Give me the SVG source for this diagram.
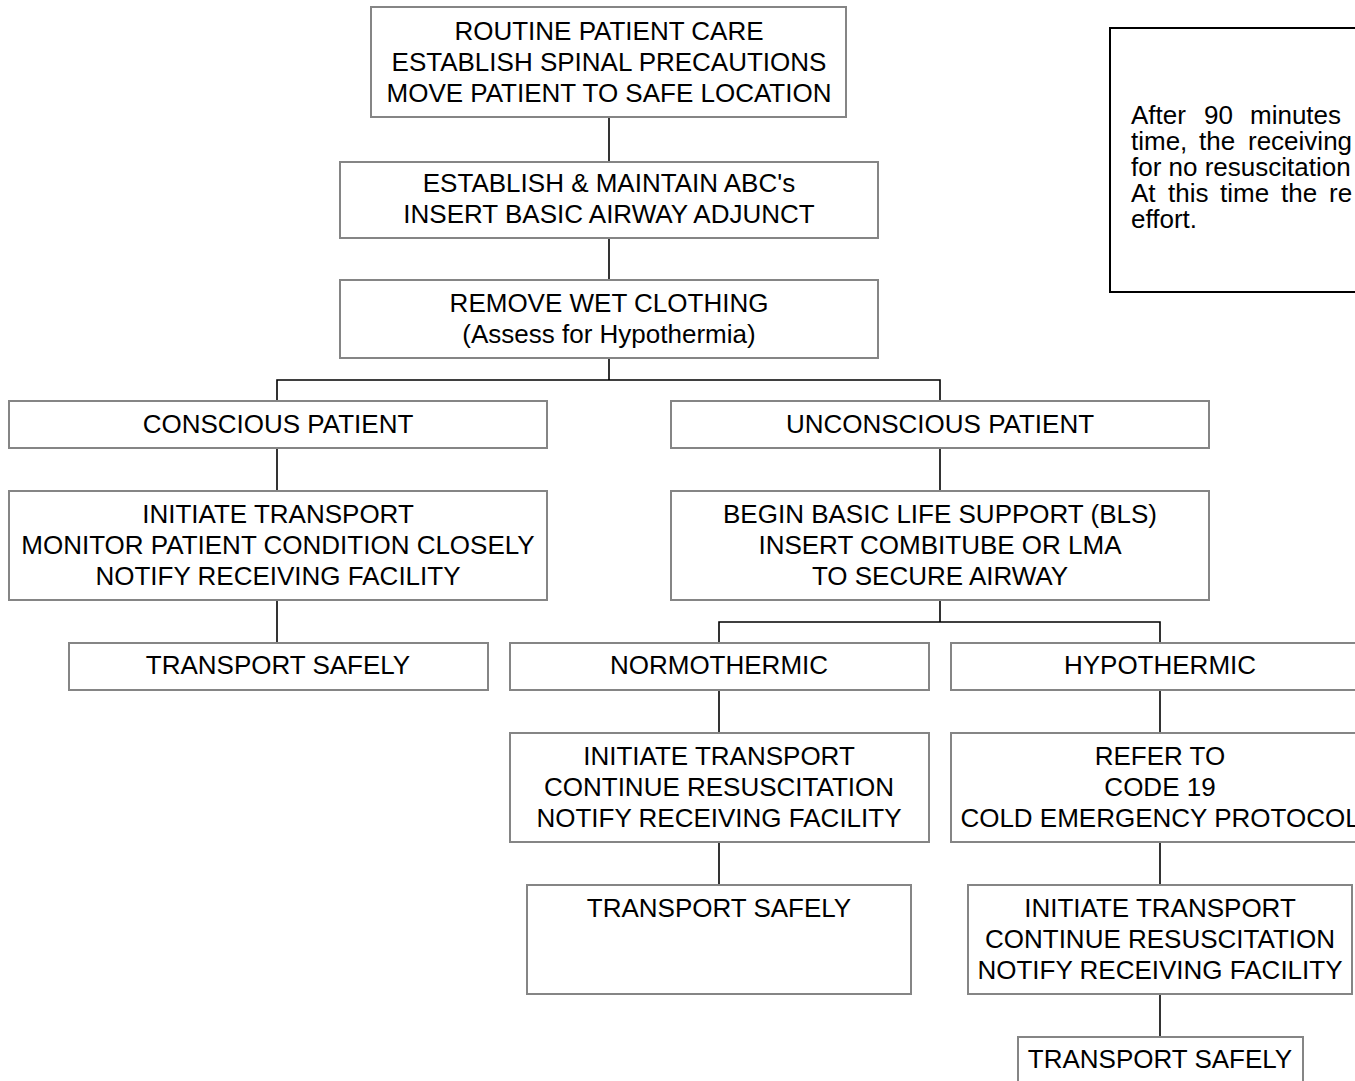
<svg xmlns="http://www.w3.org/2000/svg" width="1355" height="1081" viewBox="0 0 1355 1081">
  <style>
    .box { fill: #ffffff; stroke: #858585; stroke-width: 2; }
    .note { fill: #ffffff; stroke: #000000; stroke-width: 2; }
    .lbl { font-family: "Liberation Sans", Arial, sans-serif; font-size: 26px; fill: #000000; text-anchor: middle; }
    .ntx { font-family: "Liberation Sans", Arial, sans-serif; font-size: 26px; fill: #000000; }
    .wire { fill: none; stroke: #000000; stroke-width: 1.6; }
  </style>
  <rect width="1355" height="1081" fill="#ffffff"/>

  <!-- connectors -->
  <g id="connectors">
    <path class="wire" d="M609 117 V162"/>
    <path class="wire" d="M609 238 V280"/>
    <path class="wire" d="M609 358 V380 M277 401 V380 H940 V401"/>
    <path class="wire" d="M277 448 V491"/>
    <path class="wire" d="M277 600 V643"/>
    <path class="wire" d="M940 448 V491"/>
    <path class="wire" d="M940 600 V622 M719 643 V622 H1160 V643"/>
    <path class="wire" d="M719 690 V733"/>
    <path class="wire" d="M1160 690 V733"/>
    <path class="wire" d="M719 842 V885"/>
    <path class="wire" d="M1160 842 V885"/>
    <path class="wire" d="M1160 994 V1037"/>
  </g>

  <g id="routine-care">
    <rect class="box" x="371" y="7" width="475" height="110"/>
    <text class="lbl" x="609" y="40.4">ROUTINE PATIENT CARE</text>
    <text class="lbl" x="609" y="71.4">ESTABLISH SPINAL PRECAUTIONS</text>
    <text class="lbl" x="609" y="102.4">MOVE PATIENT TO SAFE LOCATION</text>
  </g>

  <g id="abcs">
    <rect class="box" x="340" y="162" width="538" height="76"/>
    <text class="lbl" x="609" y="192.4">ESTABLISH &amp; MAINTAIN ABC's</text>
    <text class="lbl" x="609" y="223.4">INSERT BASIC AIRWAY ADJUNCT</text>
  </g>

  <g id="wet-clothing">
    <rect class="box" x="340" y="280" width="538" height="78"/>
    <text class="lbl" x="609" y="312.4">REMOVE WET CLOTHING</text>
    <text class="lbl" x="609" y="343.4">(Assess for Hypothermia)</text>
  </g>

  <g id="conscious">
    <rect class="box" x="9" y="401" width="538" height="47"/>
    <text class="lbl" x="278" y="433.4">CONSCIOUS PATIENT</text>
  </g>

  <g id="unconscious">
    <rect class="box" x="671" y="401" width="538" height="47"/>
    <text class="lbl" x="940" y="433.4">UNCONSCIOUS PATIENT</text>
  </g>

  <g id="conscious-transport">
    <rect class="box" x="9" y="491" width="538" height="109"/>
    <text class="lbl" x="278" y="523.4">INITIATE TRANSPORT</text>
    <text class="lbl" x="278" y="554.4">MONITOR PATIENT CONDITION CLOSELY</text>
    <text class="lbl" x="278" y="585.4">NOTIFY RECEIVING FACILITY</text>
  </g>

  <g id="bls">
    <rect class="box" x="671" y="491" width="538" height="109"/>
    <text class="lbl" x="940" y="523.4">BEGIN BASIC LIFE SUPPORT (BLS)</text>
    <text class="lbl" x="940" y="554.4">INSERT COMBITUBE OR LMA</text>
    <text class="lbl" x="940" y="585.4">TO SECURE AIRWAY</text>
  </g>

  <g id="conscious-safe">
    <rect class="box" x="69" y="643" width="419" height="47"/>
    <text class="lbl" x="278" y="674.4">TRANSPORT SAFELY</text>
  </g>

  <g id="normothermic">
    <rect class="box" x="510" y="643" width="419" height="47"/>
    <text class="lbl" x="719" y="674.4">NORMOTHERMIC</text>
  </g>

  <g id="hypothermic">
    <rect class="box" x="951" y="643" width="418" height="47"/>
    <text class="lbl" x="1160" y="674.4">HYPOTHERMIC</text>
  </g>

  <g id="normo-transport">
    <rect class="box" x="510" y="733" width="419" height="109"/>
    <text class="lbl" x="719" y="765.4">INITIATE TRANSPORT</text>
    <text class="lbl" x="719" y="796.4">CONTINUE RESUSCITATION</text>
    <text class="lbl" x="719" y="827.4">NOTIFY RECEIVING FACILITY</text>
  </g>

  <g id="cold-protocol">
    <rect class="box" x="951" y="733" width="418" height="109"/>
    <text class="lbl" x="1160" y="765.4">REFER TO</text>
    <text class="lbl" x="1160" y="796.4">CODE 19</text>
    <text class="lbl" x="1160" y="827.4">COLD EMERGENCY PROTOCOL</text>
  </g>

  <g id="normo-safe">
    <rect class="box" x="527" y="885" width="384" height="109"/>
    <text class="lbl" x="719" y="917.4">TRANSPORT SAFELY</text>
  </g>

  <g id="hypo-transport">
    <rect class="box" x="968" y="885" width="384" height="109"/>
    <text class="lbl" x="1160" y="917.4">INITIATE TRANSPORT</text>
    <text class="lbl" x="1160" y="948.4">CONTINUE RESUSCITATION</text>
    <text class="lbl" x="1160" y="979.4">NOTIFY RECEIVING FACILITY</text>
  </g>

  <g id="hypo-safe">
    <rect class="box" x="1018" y="1037" width="285" height="60"/>
    <text class="lbl" x="1160" y="1068.4">TRANSPORT SAFELY</text>
  </g>

  <!-- side note, justified lines running past the page edge -->
  <g id="note">
    <rect class="note" x="1110" y="28" width="270" height="264"/>
    <text class="ntx" y="124"><tspan x="1131">After</tspan><tspan x="1204">90</tspan><tspan x="1250">minutes</tspan></text>
    <text class="ntx" y="150"><tspan x="1131">time,</tspan><tspan x="1199">the</tspan><tspan x="1248">receiving</tspan></text>
    <text class="ntx" x="1131" y="176">for no resuscitation</text>
    <text class="ntx" y="202"><tspan x="1131">At</tspan><tspan x="1168">this</tspan><tspan x="1220">time</tspan><tspan x="1281">the</tspan><tspan x="1329">re</tspan></text>
    <text class="ntx" x="1131" y="228">effort.</text>
  </g>
</svg>
